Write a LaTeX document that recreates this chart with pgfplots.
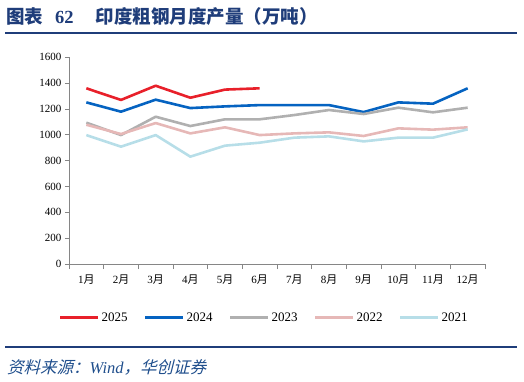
\documentclass[border=0pt]{standalone}
\usepackage{pgfplots}
\pgfplotsset{compat=1.18}
\usepackage{fontspec}
\setmainfont{Liberation Serif}
\newfontfamily\cjk{Noto Sans CJK SC}
\newfontfamily\cjkit[FakeSlant=0.25]{Noto Sans CJK SC}
\definecolor{titleblue}{HTML}{1F3D7A}
\definecolor{srcblue}{HTML}{1F4E8C}
\definecolor{c25}{HTML}{E8202A}
\definecolor{c24}{HTML}{0563C1}
\definecolor{c23}{HTML}{B0B0B0}
\definecolor{c22}{HTML}{E6B8B7}
\definecolor{c21}{HTML}{B7DEE8}
\definecolor{axgray}{HTML}{868686}
\begin{document}
\begin{tikzpicture}[x=1pt,y=1pt]
\useasboundingbox (0pt,0pt) rectangle (524pt,381pt);
\node[anchor=west, text=titleblue, inner sep=0] at (6pt,364pt) {\fontsize{18.5}{20}\selectfont\cjk\bfseries 图表\hspace{12pt}{\rmfamily\bfseries 62}\hspace{22pt}印度粗钢月度产量（万吨）};
\draw[titleblue, line width=2pt] (5pt,348pt) -- (517pt,348pt);
\draw[titleblue, line width=1.5pt] (5pt,34pt) -- (517pt,34pt);
\node[anchor=west, text=srcblue, inner sep=0] at (7pt,14pt) {\fontsize{16.5}{18}\selectfont\cjkit 资料来源：{\rmfamily\itshape Wind}，华创证券};
\begin{axis}[
  at={(69pt,117pt)}, anchor=south west, scale only axis,
  width=416pt, height=206.7pt,
  xmin=0.5, xmax=12.5, ymin=0, ymax=1600,
  axis lines=left, axis line style={axgray, line width=0.8pt, -},
  xtick={1,...,12},
  xticklabels={1{\cjk 月},2{\cjk 月},3{\cjk 月},4{\cjk 月},5{\cjk 月},6{\cjk 月},7{\cjk 月},8{\cjk 月},9{\cjk 月},10{\cjk 月},11{\cjk 月},12{\cjk 月}},
  major x tick style={draw=none},
  minor xtick={0.5,1.5,...,12.5},
  minor x tick style={axgray, line width=0.8pt},
  minor tick length=5pt,
  ytick={0,200,...,1600},
  major y tick style={axgray, line width=0.8pt},
  major tick length=4pt,
  tick align=outside,
  /pgf/number format/assume math mode=true,
  /pgf/number format/1000 sep={},
  ticklabel style={font=\fontsize{11}{13}\selectfont, text=black},
  xticklabel style={yshift=-3pt},
  legend style={at={(0.469,-0.261)}, anchor=center, draw=none, legend columns=5,
    font=\fontsize{13}{14}\selectfont,
    /tikz/every even column/.append style={column sep=14pt},
    /tikz/every odd column/.append style={column sep=0pt},
    nodes={inner xsep=2pt}},
  legend image code/.code={\draw[#1, line width=3pt] (0pt,0pt) -- (38pt,0pt);},
  every axis plot/.append style={line width=2.6pt, line join=round},
]
\addplot[c25] coordinates {(1,1360)(2,1270)(3,1380)(4,1287)(5,1350)(6,1360)};
\addplot[c24] coordinates {(1,1251)(2,1179)(3,1272)(4,1207)(5,1220)(6,1230)(7,1230)(8,1230)(9,1176)(10,1251)(11,1241)(12,1360)};
\addplot[c23] coordinates {(1,1094)(2,998)(3,1140)(4,1068)(5,1120)(6,1120)(7,1153)(8,1192)(9,1161)(10,1210)(11,1174)(12,1210)};
\addplot[c22] coordinates {(1,1078)(2,1006)(3,1091)(4,1011)(5,1058)(6,998)(7,1011)(8,1019)(9,991)(10,1050)(11,1040)(12,1058)};
\addplot[c21] coordinates {(1,998)(2,908)(3,998)(4,831)(5,916)(6,939)(7,978)(8,988)(9,949)(10,978)(11,978)(12,1042)};
\legend{2025,2024,2023,2022,2021}
\end{axis}
\end{tikzpicture}
\end{document}
